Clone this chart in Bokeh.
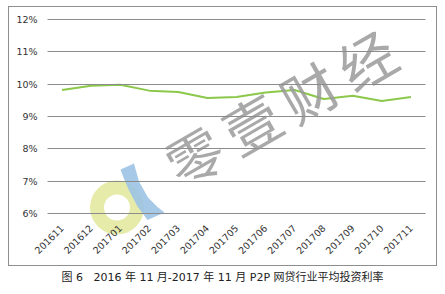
import math
from bokeh.plotting import figure
from bokeh.models import Range1d, FixedTicker, PrintfTickFormatter, Div
from bokeh.layouts import column
from bokeh.core.properties import value
from bokeh.embed import file_html
from bokeh.resources import INLINE

# ---- data ----
months = ["201611", "201612", "201701", "201702", "201703", "201704", "201705",
          "201706", "201707", "201708", "201709", "201710", "201711"]
rates = [9.82, 9.95, 9.98, 9.80, 9.76, 9.57, 9.60, 9.74, 9.82, 9.54, 9.64, 9.48, 9.60]
y_ticks = [6, 7, 8, 9, 10, 11, 12]
caption = "图 6&nbsp;&nbsp;&nbsp;2016 年 11 月-2017 年 11 月 P2P 网贷行业平均投资利率"
watermark_chars = ["零", "壹", "财", "经"]

xs = list(range(len(months)))

# ---- page geometry (pixels) ----
CX0, CX1, CY0, CY1 = 9, 436, 7, 265      # canvas inside the outer box
AX0, AX1, AY0, AY1 = 47, 425, 19, 213     # plot area (12% at AY0, 6% at AY1)
n = len(months)
ppx = (AX1 - AX0) / n
ppy = (AY1 - AY0) / (max(y_ticks) - min(y_ticks))
x_start = -0.5 - (AX0 - CX0) / ppx
x_end = n - 0.5 + (CX1 - AX1) / ppx
y_end = max(y_ticks) + (AY0 - CY0) / ppy
y_start = min(y_ticks) - (CY1 - AY1) / ppy

p = figure(x_range=Range1d(x_start, x_end), y_range=Range1d(y_start, y_end),
           frame_width=CX1 - CX0, frame_height=CY1 - CY0, min_border=0,
           output_backend="svg", toolbar_location=None)
p.margin = (CY0, 0, 0, CX0)
p.styles = {"outline": "1px solid #8e8e8e"}
p.outline_line_color = None
p.xgrid.visible = False
p.ygrid.visible = False

p.extra_x_ranges = {"px": Range1d(CX0, CX1)}
p.extra_y_ranges = {"px": Range1d(CY1, CY0)}

# y axis: its ticks, drawn inward across the plot area, act as gridlines
p.yaxis.fixed_location = -0.5
p.yaxis.ticker = FixedTicker(ticks=y_ticks)
p.yaxis.formatter = PrintfTickFormatter(format="%d%%")
p.yaxis.axis_line_color = None
p.yaxis.minor_tick_line_color = None
p.yaxis.major_tick_out = 0
p.yaxis.major_tick_in = AX1 - AX0
p.yaxis.major_tick_line_color = "#8c8c8c"
p.yaxis.major_tick_line_width = 1
p.yaxis.major_label_standoff = 10
p.yaxis.major_label_text_font = "DejaVu Sans"
p.yaxis.major_label_text_font_size = "9.5px"
p.yaxis.major_label_text_color = "#333333"

p.xaxis.fixed_location = min(y_ticks)
p.xaxis.ticker = FixedTicker(ticks=xs)
p.xaxis.major_label_overrides = {i: m for i, m in zip(xs, months)}
p.xaxis.axis_line_color = None
p.xaxis.major_tick_line_color = None
p.xaxis.minor_tick_line_color = None
p.xaxis.major_tick_out = 0
p.xaxis.major_tick_in = 0
p.xaxis.major_label_standoff = 13
p.xaxis.major_label_orientation = math.pi / 4
p.xaxis.major_label_text_font = "DejaVu Sans"
p.xaxis.major_label_text_font_size = "9.5px"
p.xaxis.major_label_text_color = "#333333"

# logo (decoration, page pixel coordinates)
p.annulus(x=[116.5], y=[207], inner_radius=13, outer_radius=27,
          inner_radius_units="screen", outer_radius_units="screen",
          fill_color="#e0e694", fill_alpha=0.8, line_color=None,
          x_range_name="px", y_range_name="px", level="underlay")
blue_x = [120, 133.5, 138.5, 147.5, 157, 164, 147, 137, 128.5, 123]
blue_y = [169, 163, 181, 197, 206.5, 212, 219.5, 206, 190, 177]
p.patch(blue_x, blue_y, fill_color="#9cc3e6", fill_alpha=0.9, line_color=None,
        x_range_name="px", y_range_name="px", level="underlay")

# data line
p.line(x=xs, y=rates, line_color="#8cc84b", line_width=2)

# watermark (decoration, page pixel coordinates)
cx0, cy0 = 193, 154
dx, dy = 57.5, -32.0
p.text(x=[cx0 + i * dx for i in range(4)], y=[cy0 + i * dy for i in range(4)],
       text=watermark_chars, angle=math.radians(30),
       text_font=value("Noto Sans CJK SC"), text_font_size="56px",
       text_color="#9a9a9a", text_alpha=0.85,
       text_align="center", text_baseline="middle",
       x_range_name="px", y_range_name="px")

cap = Div(text=caption, width=445, height=16, margin=(6, 0, 0, 0),
          styles={"text-align": "center", "font-size": "11px",
                  "font-family": "'DejaVu Sans', 'Noto Sans CJK SC'",
                  "color": "#222222", "line-height": "14px", "width": "445px"})

layout = column(p, cap)
open("out.html", "w").write(file_html(layout, INLINE))
